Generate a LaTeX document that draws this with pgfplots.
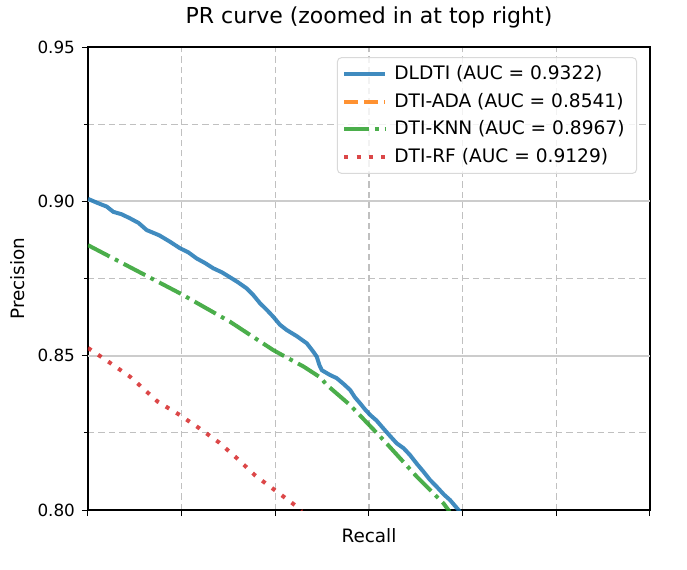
\documentclass[border=0pt]{standalone}
\usepackage{pgfplots}
\pgfplotsset{compat=1.18}
\usepackage{fontspec}
\setmainfont{DejaVu Sans}

\definecolor{cblue}{HTML}{1F77B4}
\definecolor{corange}{HTML}{FF7F0E}
\definecolor{cgreen}{HTML}{2CA02C}
\definecolor{cred}{HTML}{D62728}
\definecolor{gridgray}{HTML}{B0B0B0}

\begin{document}
\begin{tikzpicture}
\useasboundingbox (-44pt,-29.5pt) rectangle (299.5pt,255pt);
\begin{axis}[
  at={(0,0)}, anchor=south west,
  scale only axis, width=281pt, height=231.5pt,
  xmin=0.6, xmax=0.9, ymin=0.80, ymax=0.95,
  xtick={0.6,0.65,0.7,0.75,0.8,0.85,0.9}, xticklabels={},
  ytick={0.80,0.85,0.90,0.95},
  minor ytick={0.825,0.875,0.925},
  extra y ticks={0.85,0.90},
  extra y tick labels={},
  extra y tick style={grid=major, major grid style={solid, draw=gray!40, line width=0.9pt}},
  xmajorgrids, yminorgrids,
  grid style={draw=gridgray!80, line width=0.55pt, dash pattern=on 3.2pt off 2pt},
  xtick pos=bottom, ytick pos=left,
  tick align=outside, major tick length=3pt, minor tick length=2pt,
  tick style={black, line width=0.5pt},
  axis line style={black, line width=0.6pt},
  /pgf/number format/assume math mode=true,
  yticklabel style={/pgf/number format/fixed, /pgf/number format/fixed zerofill, /pgf/number format/precision=2},
  ticklabel style={font=\fontsize{8.4}{10}\selectfont},
  title={PR curve (zoomed in at top right)},
  title style={at={(axis description cs:0.5,1)}, anchor=base, yshift=6pt, font=\fontsize{11}{13}\selectfont},
  xlabel={Recall},
  xlabel style={at={(axis description cs:0.5,0)}, anchor=base, yshift=-16pt, font=\fontsize{9.2}{11}\selectfont},
  ylabel={Precision},
  ylabel style={at={(axis description cs:-0.1254,0.5)}, anchor=center, font=\fontsize{9.2}{11}\selectfont},
  legend cell align=left,
  legend image code/.code={\draw[#1] (0pt,0pt) -- (20.5pt,0pt);},
  legend style={at={(axis description cs:0.977,0.978)}, anchor=north east,
    draw=gray!30, line width=0.5pt, rounded corners=2pt, fill=white, fill opacity=0.8, text opacity=1,
    font=\fontsize{9.3}{11}\selectfont, row sep=1.2pt, inner xsep=2.5pt, inner ysep=2pt,
    nodes={inner xsep=3.5pt}},
]

% DLDTI
\addplot[cblue, opacity=0.85, line width=2pt, line join=round] coordinates {
(0.6000,0.9008) (0.6050,0.8995) (0.6100,0.8983) (0.6135,0.8966) (0.6180,0.8958)
(0.6224,0.8945) (0.6270,0.8930) (0.6313,0.8907) (0.6380,0.8890) (0.6438,0.8869)
(0.6491,0.8848) (0.6535,0.8835) (0.6580,0.8815) (0.6625,0.8800) (0.6669,0.8783)
(0.6715,0.8770) (0.6758,0.8754) (0.6800,0.8738) (0.6847,0.8718) (0.6880,0.8698)
(0.6918,0.8670) (0.6955,0.8648) (0.6989,0.8626) (0.7025,0.8600) (0.7061,0.8583)
(0.7115,0.8563) (0.7168,0.8540) (0.7200,0.8515) (0.7221,0.8497) (0.7235,0.8470)
(0.7248,0.8453) (0.7290,0.8438) (0.7328,0.8427) (0.7365,0.8408) (0.7399,0.8389)
(0.7425,0.8365) (0.7452,0.8346) (0.7480,0.8325) (0.7506,0.8308) (0.7540,0.8290)
(0.7577,0.8264) (0.7612,0.8240) (0.7648,0.8216) (0.7685,0.8200) (0.7719,0.8178)
(0.7755,0.8150) (0.7791,0.8124) (0.7825,0.8098) (0.7862,0.8075) (0.7900,0.8050)
(0.7933,0.8032) (0.7978,0.8000) (0.7990,0.7990)
};
\addlegendentry{DLDTI (AUC = 0.9322)}

% DTI-ADA lies below the shown window
\addlegendimage{corange, opacity=0.85, line width=2pt, dash pattern=on 7pt off 3pt}
\addlegendentry{DTI-ADA (AUC = 0.8541)}

% DTI-KNN
\addplot[cgreen, opacity=0.85, line width=2pt, dash pattern=on 12.2pt off 3pt on 1.9pt off 3pt] coordinates {
(0.6000,0.8858) (0.6491,0.8702) (0.6758,0.8610) (0.6989,0.8518) (0.7043,0.8500)
(0.7150,0.8465) (0.7239,0.8430) (0.7275,0.8405) (0.7399,0.8340) (0.7577,0.8227)
(0.7755,0.8108) (0.7897,0.8022) (0.7930,0.7995)
};
\addlegendentry{DTI-KNN (AUC = 0.8967)}

% DTI-RF
\addplot[cred, opacity=0.85, line width=2pt, dash pattern=on 2pt off 4.1pt] coordinates {
(0.6000,0.8525) (0.6117,0.8477) (0.6224,0.8432) (0.6274,0.8405) (0.6372,0.8351)
(0.6484,0.8310) (0.6594,0.8265) (0.6699,0.8219) (0.6798,0.8166) (0.6894,0.8111)
(0.6996,0.8065) (0.7104,0.8016) (0.7140,0.7995)
};
\addlegendentry{DTI-RF (AUC = 0.9129)}

\end{axis}
\end{tikzpicture}
\end{document}
